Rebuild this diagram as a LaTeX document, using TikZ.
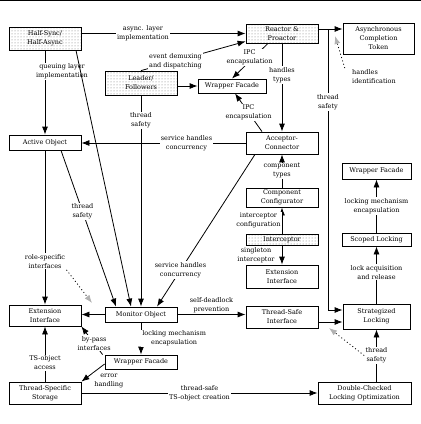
\documentclass[tikz,border=0pt]{standalone}
\usepackage{fontspec}
\setmainfont{DejaVu Serif}
\usepackage{tikz}
\usetikzlibrary{arrows.meta, patterns, calc}

\begin{document}
\begin{tikzpicture}[x=1pt, y=-1pt, line width=.8pt, font=\fontsize{6.5}{9}\selectfont,
        box/.style={draw, fill=white, align=center, inner sep=1pt, minimum width=72pt},
        dotbox/.style={box, pattern=dots, pattern color=black!55},
        lab/.style={fill=white, align=center, inner sep=1pt},
        arr/.style={-{Latex[length=8pt,width=6pt]}},
        varr/.style={dash pattern=on 1pt off 2.5pt, -{Latex[length=8pt,width=6pt,color=gray!60]}}]
        \useasboundingbox (0,0) rectangle (421,424);
        \draw[line width=1.2pt] (0,0.6) -- (421,0.6);

        \node[dotbox, minimum height=23pt] (hs) at (45,38.5) {Half-Sync/\\Half-Async};
        \node[dotbox, minimum height=19pt] (reactor) at (282,33.5) {Reactor \&\\Proactor};
        \node[box, minimum width=71pt, minimum height=31pt] (act) at (378.5,38.5) {Asynchronous\\Completion\\Token};
        \node[dotbox, minimum height=24pt] (lf) at (141,83) {Leader/\\Followers};
        \node[box, minimum width=68pt, minimum height=14pt] (wfT) at (232,86) {Wrapper Facade};
        \node[box, minimum height=15pt] (ao) at (45,142.5) {Active Object};
        \node[box, minimum height=22pt] (ac) at (282,143) {Acceptor-\\Connector};
        \node[box, minimum height=19pt] (cc) at (282,197.5) {Component\\Configurator};
        \node[dotbox, minimum height=11pt] (ic) at (282,239.5) {Interceptor};
        \node[box, minimum height=23pt] (eiR) at (282,276.5) {Extension\\Interface};
        \node[box, minimum width=69pt, minimum height=16pt] (wfR) at (376.5,171) {Wrapper Facade};
        \node[box, minimum width=69pt, minimum height=13pt] (sl) at (376.5,239.5) {Scoped Locking};
        \node[box, minimum width=67pt, minimum height=25pt] (stl) at (376.5,316.5) {Strategized\\Locking};
        \node[box, minimum height=22pt] (tsi) at (282,317) {Thread-Safe\\Interface};
        \node[box, minimum width=93pt, minimum height=22pt] (dclo) at (364.5,393) {Double-Checked\\Locking Optimization};
        \node[box, minimum height=15pt] (mo) at (141,314.5) {Monitor Object};
        \node[box, minimum height=21pt] (eiL) at (45,315.5) {Extension\\Interface};
        \node[box, minimum height=14pt] (wfB) at (141,362) {Wrapper Facade};
        \node[box, minimum height=22pt] (tss) at (45,393) {Thread-Specific\\Storage};

        \path ([yshift=4.5pt]reactor.east) coordinate (rcE);
        \path ([yshift=-5pt]tsi.east) coordinate (tsiE);
        \coordinate (tsbend) at (328,310);
        \coordinate (hidT) at (335,36);
        \coordinate (rsT) at (92,303);
        \coordinate (tsT) at (329,328);

        \draw[arr] (hs.east |- reactor.west) -- node[lab, pos=.375]{async. layer\\implementation} (reactor.west);
        \draw[arr] (lf.north) -- node[lab, pos=.33]{event demuxing\\and dispatching} ([yshift=2pt]reactor.south west);
        \draw[arr] (rcE) -- (rcE -| act.west);
        \draw[arr] (rcE -| tsbend) -- node[lab, pos=.26]{thread\\safety} (tsbend) -- (tsbend -| stl.west);
        \draw[arr] ([xshift=-14pt]reactor.south) -- node[lab, pos=.4, xshift=-4pt]{IPC\\encapsulation} (wfT.north);
        \draw[arr] (reactor.south) -- node[lab, pos=.36]{handles\\types} (ac.north);
        \draw[arr] ([xshift=-20pt]ac.north) -- node[lab, pos=.5]{IPC\\encapsulation} ([xshift=3pt]wfT.south);
        \draw[arr] (lf.east |- wfT.west) -- (wfT.west);
        \draw[arr] (hs) -- node[lab, pos=.25, xshift=17pt]{queuing layer\\implementation} (ao);
        \draw[arr] ([xshift=31pt]hs.south) -- ([xshift=-10pt]mo.north);
        \draw[arr] ([xshift=16pt]ao.south) -- node[lab, pos=.39]{thread\\safety} ([xshift=-25pt]mo.north);
        \draw[arr] (lf) -- node[lab, pos=.12]{thread\\safety} (mo);
        \draw[arr] ([xshift=-27pt]ac.south) -- node[lab, pos=.76]{service handles\\concurrency} ([xshift=16pt]mo.north);
        \draw[arr] (ac.west) -- node[lab, pos=.36]{service handles\\concurrency} (ao.east |- ac.west);
        \draw[arr] (cc) -- node[lab]{component\\types} (ac);
        \draw[arr] (ic) -- node[lab, left]{interceptor\\configuration} (cc);
        \draw[arr] (ic) -- node[lab, left, xshift=-6pt]{singleton\\interceptor} (eiR);
        \draw[arr] (ao) -- node[lab, pos=.72] (rsl) {role-specific\\interfaces} (eiL);
        \draw[arr] (mo.east) -- node[lab, above]{self-deadlock\\prevention} (tsi.west |- mo.east);
        \draw[arr] (mo.west) -- (eiL.east |- mo.west);
        \draw[arr] (mo) -- node[lab, right]{locking mechanism\\encapsulation} (wfB);
        \draw[arr] ([xshift=-2pt]wfB.north west) -- node[lab, pos=.4]{by-pass\\interfaces} (eiL.south east);
        \draw[arr] ([yshift=-2pt]wfB.west) -- node[lab, below right]{error\\handling} (tss.north east);
        \draw[arr] (tss) -- node[lab, pos=.34]{TS-object\\access} (eiL);
        \draw[arr] (tss) -- node[lab]{thread-safe\\TS-object creation} (dclo);
        \draw[arr] (sl) -- node[lab]{locking mechanism\\encapsulation} (wfR);
        \draw[arr] (stl) -- node[lab, pos=.55]{lock acquisition\\and release} (sl);
        \draw[arr] (dclo.north -| stl) -- node[lab] (tsl) {thread\\safety} (stl);
        \draw[arr] (tsiE) -- (tsiE -| stl.west);

        \node[lab, align=left] (hid) at (374,76.5) {handles\\identification};
        \draw[varr] ([xshift=-6pt]hid.north west) -- (hidT);
        \draw[varr] (rsl.south east) -- (rsT);
        \draw[varr] (tsl.west) -- (tsT);
    \end{tikzpicture}
\end{document}
